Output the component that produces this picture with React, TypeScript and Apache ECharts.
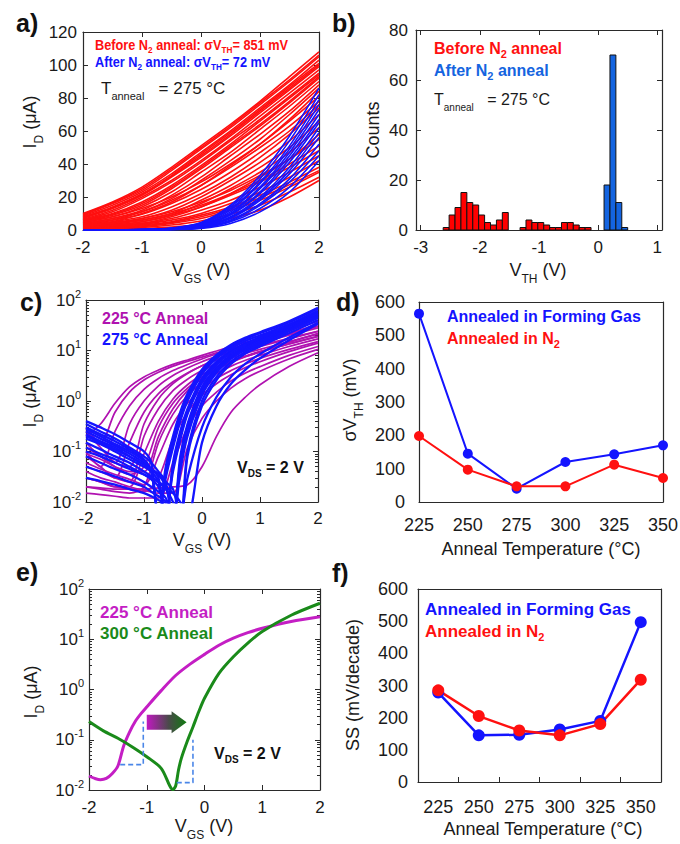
import React, { useEffect, useRef } from 'react';
import * as echarts from 'echarts';

const FONT = '"Liberation Sans", Arial, Helvetica, sans-serif';

// ---------------- Panel a : linear I-V before / after N2 anneal ----------------
const vgsA = [-2, -1.5, -1, -0.5, 0, 0.5, 1, 1.5, 2];
const idBeforeN2 = [
  [10, 17, 26, 38, 51, 64, 78, 93, 108],
  [9.5, 16.5, 25, 37, 50, 63, 77, 91, 106],
  [9, 16, 24, 36, 49, 62, 76, 90, 105],
  [8.5, 15, 23, 34, 47, 60, 74, 88, 103],
  [8, 14, 22, 33, 46, 59, 73, 87, 101],
  [7.5, 13.5, 21.5, 32.5, 45, 58, 72, 86, 100],
  [7, 13, 21, 32, 44, 57, 71, 85, 99],
  [6.5, 12, 20, 30, 42, 55, 69, 83, 97],
  [6, 11, 19, 29, 41, 54, 67, 81, 95],
  [6, 10, 17, 27, 39, 52, 66, 80, 94],
  [5.5, 9.5, 16, 26, 38, 51, 64, 78, 93],
  [5, 9, 15, 25, 37, 50, 63, 77, 92],
  [4.5, 8, 14, 23, 35, 47, 61, 75, 90],
  [4, 7, 12, 21, 32, 45, 58, 72, 88],
  [3.5, 6, 11, 19, 30, 42, 55, 70, 86],
  [3, 5, 10, 17, 27, 39, 52, 67, 84],
  [5, 8, 13, 20, 29, 40, 52, 66, 81],
  [4, 7, 11, 18, 27, 38, 50, 63, 78],
  [3.5, 6, 9.5, 16, 24.5, 35, 47, 60, 76],
  [3, 5, 8, 14, 22, 32, 44, 58, 74],
  [2.5, 4, 7, 12, 20, 30, 41, 54, 70],
  [2, 3.5, 6, 10, 18, 27, 38, 50, 66],
  [2, 3, 5, 9, 16, 25, 35, 47, 62],
  [1.5, 2.5, 4, 8, 14, 22, 32, 43, 58],
  [3, 4.5, 7, 11, 17, 24, 33, 43, 55],
  [2.5, 4, 6, 10, 15, 22, 30, 40, 51],
  [2, 3, 5, 9, 14, 21, 29, 38, 48],
  [1.5, 2.5, 4, 7, 12, 18, 26, 35, 45],
  [1, 2, 3.5, 6, 10, 16, 23, 32, 42],
  [1, 1.5, 3, 5, 9, 14, 21, 29, 38],
  [0.8, 1.3, 2.5, 4.5, 8, 13, 19.5, 27.5, 36],
  [0.5, 1, 2, 4, 7, 12, 18, 26, 35],
  [0.4, 0.8, 1.5, 3, 5.5, 9.5, 15, 23, 32],
  [0.3, 0.5, 1, 1.8, 3.5, 7, 12, 20, 30],
];
const idAfterN2 = [
  [0, 0.1, 0.3, 1.2, 4.5, 15, 33, 57, 86],
  [0, 0.1, 0.3, 1.1, 4.2, 14, 31, 54, 82],
  [0, 0.1, 0.2, 1, 4, 13, 29, 51, 79],
  [0, 0, 0.2, 0.9, 3.6, 12, 28, 49, 76],
  [0, 0, 0.2, 0.8, 3.3, 11, 26, 47, 73],
  [0, 0, 0.2, 0.8, 3, 10, 25, 45, 70],
  [0, 0, 0.1, 0.7, 2.8, 9.5, 23, 43, 67],
  [0, 0, 0.1, 0.6, 2.5, 9, 22, 41, 65],
  [0, 0, 0.1, 0.5, 2.2, 8, 20, 38, 62],
  [0, 0, 0.1, 0.5, 2, 7.5, 19, 36, 59],
  [0, 0, 0.1, 0.4, 1.8, 7, 18, 34, 56],
  [0, 0, 0.1, 0.4, 1.6, 6, 16, 31, 52],
  [0, 0, 0.1, 0.3, 1.4, 5.5, 15, 29, 48],
  [0, 0, 0, 0.3, 1.2, 5, 13, 26, 45],
  [0, 0, 0, 0.2, 1, 4, 11, 23, 42],
];

// ---------------- Panel b : V_TH histogram ----------------
const binWidth = 0.1;
const vthBeforeBins = [-2.62, -2.52, -2.42, -2.32, -2.22, -2.12, -2.02, -1.92, -1.82, -1.72, -1.62,
  -1.32, -1.22, -1.12, -1.02, -0.92, -0.82, -0.72, -0.62, -0.52, -0.42, -0.32, -0.22];
const vthBeforeCounts = [1, 6, 9, 15, 11, 10, 6, 3, 2, 4, 7, 1, 4, 3, 3, 2, 1, 1, 3, 3, 2, 1, 1];
const vthAfterBins = [0.1, 0.2, 0.3, 0.4];
const vthAfterCounts = [18, 70, 11, 1];
const vthTicks = [-3, -2, -1, 0, 1];

// ---------------- Panel c : log I-V, 225 vs 275 C ----------------
const vgs225 = [-2, -1.75, -1.5, -1.25, -1, -0.75, -0.5, -0.25, 0, 0.25, 0.5, 0.75, 1, 1.5, 2];
const id225 = [
  [0.2, 0.35, 0.9, 1.9, 3.0, 4.1, 5.3, 6.5, 8, 9.8, 12, 14.5, 17, 25, 38],
  [0.3, 0.15, 0.6, 1.5, 2.6, 3.7, 4.9, 6.1, 7.4, 9, 11, 13, 15.5, 22, 33],
  [0.1, 0.05, 0.25, 0.8, 1.7, 2.8, 4, 5.3, 6.8, 8.5, 10.5, 12.5, 15, 21, 30],
  [0.15, 0.08, 0.06, 0.35, 1.0, 2.0, 3.2, 4.5, 6, 7.6, 9.5, 11.5, 14, 20, 28],
  [0.08, 0.05, 0.03, 0.15, 0.6, 1.4, 2.4, 3.6, 5, 6.5, 8.2, 10, 12, 17, 24],
  [0.25, 0.12, 0.06, 0.05, 0.35, 1.1, 2.2, 3.5, 5, 6.7, 8.6, 10.5, 12.5, 17.5, 24],
  [0.05, 0.04, 0.03, 0.025, 0.2, 0.7, 1.6, 2.7, 4, 5.5, 7, 8.8, 10.5, 15, 21],
  [0.03, 0.025, 0.02, 0.02, 0.09, 0.4, 1.1, 2.1, 3.3, 4.7, 6.2, 7.8, 9.5, 13.5, 19],
  [0.12, 0.08, 0.05, 0.035, 0.05, 0.3, 0.9, 1.8, 3.0, 4.4, 6, 7.6, 9.3, 13.5, 19],
  [0.09, 0.07, 0.05, 0.04, 0.04, 0.2, 0.7, 1.6, 2.8, 4.2, 5.8, 7.5, 9.5, 14.5, 22],
  [0.02, 0.018, 0.016, 0.015, 0.02, 0.15, 0.55, 1.3, 2.3, 3.5, 4.9, 6.4, 8, 12, 17],
  [0.06, 0.045, 0.035, 0.028, 0.022, 0.08, 0.35, 0.9, 1.7, 2.8, 4, 5.4, 7, 10.5, 15],
  [0.03, 0.025, 0.02, 0.018, 0.016, 0.03, 0.18, 0.6, 1.3, 2.2, 3.3, 4.6, 6, 9.5, 14],
  [0.015, 0.014, 0.013, 0.012, 0.012, 0.012, 0.06, 0.3, 0.8, 1.5, 2.5, 3.6, 4.8, 8, 12],
  [0.04, 0.03, 0.025, 0.02, 0.017, 0.015, 0.015, 0.12, 0.45, 1.0, 1.8, 2.8, 3.9, 6.8, 10.5],
  [0.02, 0.019, 0.018, 0.018, 0.018, 0.019, 0.02, 0.022, 0.05, 0.2, 0.6, 1.2, 2.1, 4.8, 9],
];
const vgs275 = [-2, -1.75, -1.5, -1.25, -1, -0.875, -0.75, -0.625, -0.5, -0.375, -0.25, 0, 0.25, 0.5, 0.75, 1, 1.5, 2];
const id275 = [
  [0.40, 0.30, 0.22, 0.15, 0.10, 0.06, 0.004, 0.04, 0.15, 0.5, 1.2, 3.8, 7.5, 12, 17, 22, 36, 68],
  [0.30, 0.22, 0.16, 0.11, 0.07, 0.04, 0.005, 0.03, 0.12, 0.4, 1.0, 3.4, 7, 11, 15.5, 20, 33, 62],
  [0.25, 0.18, 0.13, 0.09, 0.06, 0.045, 0.03, 0.004, 0.06, 0.25, 0.7, 2.8, 6, 10, 14, 18.5, 31, 58],
  [0.18, 0.14, 0.10, 0.07, 0.05, 0.04, 0.025, 0.005, 0.05, 0.2, 0.6, 2.5, 5.5, 9.3, 13.5, 18, 30, 55],
  [0.12, 0.09, 0.07, 0.05, 0.035, 0.028, 0.02, 0.006, 0.04, 0.17, 0.55, 2.3, 5.2, 9, 13, 17, 29, 54],
  [0.35, 0.25, 0.18, 0.12, 0.08, 0.06, 0.04, 0.025, 0.004, 0.08, 0.35, 1.9, 4.6, 8.2, 12, 16, 28, 52],
  [0.08, 0.06, 0.045, 0.035, 0.025, 0.02, 0.016, 0.012, 0.005, 0.06, 0.3, 1.7, 4.3, 7.8, 11.5, 15.5, 27, 50],
  [0.22, 0.16, 0.12, 0.08, 0.055, 0.045, 0.035, 0.02, 0.006, 0.05, 0.25, 1.5, 4, 7.3, 11, 15, 26, 48],
  [0.05, 0.04, 0.032, 0.025, 0.02, 0.016, 0.013, 0.01, 0.004, 0.04, 0.2, 1.3, 3.6, 6.8, 10.3, 14, 25, 46],
  [0.15, 0.11, 0.08, 0.06, 0.04, 0.032, 0.025, 0.018, 0.01, 0.004, 0.1, 1.0, 3.0, 6, 9.5, 13, 24, 44],
  [0.03, 0.026, 0.022, 0.018, 0.015, 0.013, 0.011, 0.009, 0.007, 0.003, 0.08, 0.8, 2.6, 5.4, 8.7, 12, 22, 40],
  [0.28, 0.2, 0.14, 0.1, 0.065, 0.04, 0.006, 0.05, 0.2, 0.6, 1.4, 4.2, 8.2, 13, 18, 23, 38, 70],
  [0.2, 0.15, 0.11, 0.08, 0.055, 0.045, 0.035, 0.025, 0.018, 0.005, 0.03, 0.3, 1.2, 3, 5.5, 8.5, 18, 36],
  [0.1, 0.08, 0.06, 0.045, 0.035, 0.03, 0.025, 0.02, 0.015, 0.01, 0.005, 0.15, 0.8, 2.2, 4.2, 7, 16, 34],
];

// ---------------- Panel d : sigma V_TH vs anneal temperature ----------------
const annealTemps = [225, 250, 275, 300, 325, 350];
const sigmaVthFG = [565, 145, 40, 120, 143, 170];
const sigmaVthN2 = [198, 97, 47, 47, 112, 72];

// ---------------- Panel e : representative curves ----------------
const vgsE225 = [-2, -1.9, -1.8, -1.7, -1.6, -1.5, -1.4, -1.3, -1.2, -1.1, -1, -0.75, -0.5, -0.25, 0, 0.25, 0.5, 0.75, 1, 1.5, 2];
const idE225 = [0.019, 0.017, 0.016, 0.017, 0.021, 0.03, 0.075, 0.14, 0.23, 0.33, 0.45, 0.95, 1.9, 3.2, 5.0, 7.6, 10.5, 13.5, 16.5, 22.5, 28];
const vgsE300 = [-2, -1.75, -1.5, -1.25, -1, -0.75, -0.6, -0.55, -0.5, -0.45, -0.4, -0.3, -0.2, -0.1, 0, 0.25, 0.5, 0.75, 1, 1.5, 2];
const idE300 = [0.23, 0.15, 0.107, 0.072, 0.046, 0.027, 0.012, 0.0102, 0.012, 0.025, 0.043, 0.092, 0.18, 0.36, 0.67, 2.1, 4.5, 8.4, 14.3, 30, 52];
const ssGuide225 = [[-1.46, 0.032], [-1.06, 0.032], [-1.06, 0.23]];
const ssGuide300 = [[-0.48, 0.014], [-0.2, 0.014], [-0.2, 0.1]];
const shiftArrow = [-1.0, 0.224, -0.31, 0.224];

// ---------------- Panel f : SS vs anneal temperature ----------------
const tempCats = ['225', '250', '275', '300', '325', '350'];
const ssFG = [278, 145, 147, 163, 190, 497];
const ssN2 = [285, 205, 160, 145, 180, 318];

// ---------------- colours ----------------
const RED = '#ff1010';
const BLUE = '#1414ff';
const HBLUE = '#1464e0';
const MAG = '#b012b0';
const MAG_E = '#c41ec4';
const GREEN = '#1a8a1a';
const AXC = '#2a2a2a';
const TXT = '#1a1a1a';

const GRIDS = [
  { left: 83, top: 32, width: 236, height: 198 },
  { left: 416, top: 30, width: 246, height: 200 },
  { left: 86, top: 300, width: 232, height: 202 },
  { left: 419, top: 302, width: 244, height: 200 },
  { left: 89, top: 589, width: 231, height: 201 },
  { left: 418, top: 589, width: 243, height: 193 },
];

const LINE = { show: true, onZero: false, lineStyle: { color: AXC, width: 1.2 } };
const NOLINE = { show: false, onZero: false };
const NOSPLIT = { show: false };
const HIDDEN = { show: false };
const ticks = (len: number, extra: any = {}) => ({ show: true, inside: true, length: len, lineStyle: { color: AXC, width: 1 }, ...extra });
const labels = (size: number, margin: number, extra: any = {}) => ({ show: true, color: TXT, fontSize: size, fontFamily: FONT, margin, ...extra });

const minorLog: number[] = [];
[-2, -1, 0, 1].forEach((d) => [2, 3, 4, 5, 6, 7, 8, 9].forEach((k) => minorLog.push(d + Math.log10(k))));

const logLabel = {
  show: true,
  margin: 5,
  formatter: (v: number) => `{m|10}{s|${Math.round(Math.log10(v))}}`,
  rich: {
    m: { fontSize: 17, color: TXT, fontFamily: FONT, lineHeight: 24, verticalAlign: 'middle' },
    s: { fontSize: 11, color: TXT, fontFamily: FONT, lineHeight: 11, verticalAlign: 'top' },
  },
};

function richDef(size: number, sub: number, color: string, weight: string, off: number) {
  const L = Math.max(sub + 2 * off, size + 2);
  return {
    m: { fontSize: size, fontWeight: weight, fontFamily: FONT, fill: color, color, lineHeight: L, verticalAlign: 'middle' },
    s: { fontSize: sub, fontWeight: weight, fontFamily: FONT, fill: color, color, lineHeight: sub, verticalAlign: 'bottom' },
  };
}

function gtext(x: number, y: number, text: string, rich: any, opts: any = {}) {
  return {
    type: 'text',
    x,
    y,
    silent: true,
    z: 100,
    rotation: opts.rotation || 0,
    scaleX: opts.scaleX || 1,
    style: {
      text,
      rich,
      align: opts.align || 'left',
      textAlign: opts.align || 'left',
      verticalAlign: 'middle',
      textVerticalAlign: 'middle',
      fill: TXT,
      fontFamily: FONT,
    },
  };
}

function lineSeries(xs: number[], ys: number[], color: string, xi: number, yi: number, width: number, extra: any = {}) {
  return {
    type: 'line',
    xAxisIndex: xi,
    yAxisIndex: yi,
    data: xs.map((x, i) => [x, ys[i]]),
    symbol: 'none',
    showSymbol: false,
    smooth: 0.3,
    lineStyle: { color, width },
    itemStyle: { color },
    silent: true,
    ...extra,
  };
}

function histSeries(bins: number[], counts: number[], color: string) {
  return {
    type: 'custom',
    xAxisIndex: 2,
    yAxisIndex: 2,
    data: bins.map((b, i) => [b, b + binWidth, counts[i]]),
    encode: { x: [0, 1], y: 2 },
    silent: true,
    renderItem: (params: any, api: any) => {
      const a = api.coord([api.value(0), api.value(2)]);
      const b = api.coord([api.value(1), 0]);
      return {
        type: 'rect',
        shape: { x: a[0], y: a[1], width: b[0] - a[0], height: b[1] - a[1] },
        style: { fill: color, stroke: '#111', lineWidth: 1 },
      };
    },
  };
}

function buildOption() {
  const xAxis: any[] = [
    // a
    { gridIndex: 0, type: 'value', min: -2, max: 2, interval: 1, position: 'bottom', axisLine: LINE, axisTick: ticks(5), axisLabel: labels(17, 9), splitLine: NOSPLIT },
    { gridIndex: 0, type: 'value', min: -2, max: 2, interval: 1, position: 'top', axisLine: LINE, axisTick: ticks(5), axisLabel: HIDDEN, splitLine: NOSPLIT },
    // b
    { gridIndex: 1, type: 'value', min: -3.08, max: 1.08, position: 'bottom', axisLine: LINE, axisTick: ticks(5, { customValues: vthTicks }), axisLabel: labels(17, 9, { customValues: vthTicks }), splitLine: NOSPLIT },
    { gridIndex: 1, type: 'value', min: -3.08, max: 1.08, position: 'top', axisLine: LINE, axisTick: ticks(5, { customValues: vthTicks }), axisLabel: HIDDEN, splitLine: NOSPLIT },
    // c
    { gridIndex: 2, type: 'value', min: -2, max: 2, interval: 1, position: 'bottom', axisLine: LINE, axisTick: ticks(5), axisLabel: labels(17, 8), splitLine: NOSPLIT },
    { gridIndex: 2, type: 'value', min: -2, max: 2, interval: 1, position: 'top', axisLine: LINE, axisTick: ticks(5), axisLabel: HIDDEN, splitLine: NOSPLIT },
    // d
    { gridIndex: 3, type: 'value', min: 225, max: 350, interval: 25, position: 'bottom', axisLine: LINE, axisTick: HIDDEN, axisLabel: labels(18, 14), splitLine: NOSPLIT },
    { gridIndex: 3, type: 'value', min: 225, max: 350, interval: 25, position: 'top', axisLine: LINE, axisTick: HIDDEN, axisLabel: HIDDEN, splitLine: NOSPLIT },
    // e
    { gridIndex: 4, type: 'value', min: -2, max: 2, interval: 1, position: 'bottom', axisLine: LINE, axisTick: ticks(5), axisLabel: labels(17, 9), splitLine: NOSPLIT },
    { gridIndex: 4, type: 'value', min: -2, max: 2, interval: 1, position: 'top', axisLine: LINE, axisTick: ticks(5), axisLabel: HIDDEN, splitLine: NOSPLIT },
    // f
    { gridIndex: 5, type: 'category', data: tempCats, boundaryGap: true, position: 'bottom', axisLine: LINE, axisTick: ticks(5), axisLabel: labels(18, 16), splitLine: NOSPLIT },
    { gridIndex: 5, type: 'category', data: tempCats, boundaryGap: true, position: 'top', axisLine: LINE, axisTick: HIDDEN, axisLabel: HIDDEN, splitLine: NOSPLIT },
  ];

  const logMain = (g: number) => ({ gridIndex: g, type: 'log', logBase: 10, min: 0.01, max: 100, position: 'left', axisLine: LINE, axisTick: ticks(5), axisLabel: logLabel, splitLine: NOSPLIT, minorTick: HIDDEN });
  const logMinor = (g: number, pos: string) => ({ gridIndex: g, type: 'value', min: -2, max: 2, position: pos, axisLine: NOLINE, axisTick: ticks(3, { customValues: minorLog }), axisLabel: HIDDEN, splitLine: NOSPLIT });
  const logRight = (g: number) => ({ gridIndex: g, type: 'value', min: -2, max: 2, interval: 1, position: 'right', axisLine: LINE, axisTick: ticks(5), axisLabel: HIDDEN, splitLine: NOSPLIT });

  const yAxis: any[] = [
    // a 0,1
    { gridIndex: 0, type: 'value', min: 0, max: 120, interval: 20, position: 'left', axisLine: LINE, axisTick: ticks(5), axisLabel: labels(17, 6), splitLine: NOSPLIT },
    { gridIndex: 0, type: 'value', min: 0, max: 120, interval: 20, position: 'right', axisLine: LINE, axisTick: ticks(5), axisLabel: HIDDEN, splitLine: NOSPLIT },
    // b 2,3
    { gridIndex: 1, type: 'value', min: 0, max: 80, interval: 20, position: 'left', axisLine: LINE, axisTick: ticks(5), axisLabel: labels(17, 8), splitLine: NOSPLIT },
    { gridIndex: 1, type: 'value', min: 0, max: 80, interval: 20, position: 'right', axisLine: LINE, axisTick: ticks(5), axisLabel: HIDDEN, splitLine: NOSPLIT },
    // c 4..7
    logMain(2), logMinor(2, 'left'), logRight(2), logMinor(2, 'right'),
    // d 8,9
    { gridIndex: 3, type: 'value', min: 0, max: 600, interval: 100, position: 'left', axisLine: LINE, axisTick: HIDDEN, axisLabel: labels(18, 14), splitLine: NOSPLIT },
    { gridIndex: 3, type: 'value', min: 0, max: 600, interval: 100, position: 'right', axisLine: LINE, axisTick: HIDDEN, axisLabel: HIDDEN, splitLine: NOSPLIT },
    // e 10..13
    logMain(4), logMinor(4, 'left'), logRight(4), logMinor(4, 'right'),
    // f 14,15
    { gridIndex: 5, type: 'value', min: 0, max: 600, interval: 100, position: 'left', axisLine: LINE, axisTick: HIDDEN, axisLabel: labels(18, 10), splitLine: NOSPLIT },
    { gridIndex: 5, type: 'value', min: 0, max: 600, interval: 100, position: 'right', axisLine: LINE, axisTick: HIDDEN, axisLabel: HIDDEN, splitLine: NOSPLIT },
  ];

  const series: any[] = [];
  // a
  idBeforeN2.forEach((ys) => series.push(lineSeries(vgsA, ys, RED, 0, 0, 1.6)));
  idAfterN2.forEach((ys) => series.push(lineSeries(vgsA, ys, BLUE, 0, 0, 1.6)));
  // b
  series.push(histSeries(vthBeforeBins, vthBeforeCounts, '#ff0000'));
  series.push(histSeries(vthAfterBins, vthAfterCounts, HBLUE));
  // c
  id225.forEach((ys) => series.push(lineSeries(vgs225, ys, MAG, 4, 4, 1.7)));
  id275.forEach((ys) => series.push(lineSeries(vgs275, ys, BLUE, 4, 4, 2.3)));
  // d
  const markerLine = (data: any[], color: string, xi: number, yi: number, size: number, w: number) => ({
    type: 'line', xAxisIndex: xi, yAxisIndex: yi, data, symbol: 'circle', symbolSize: size, showSymbol: true,
    lineStyle: { color, width: w }, itemStyle: { color }, clip: false, silent: true,
  });
  series.push(markerLine(annealTemps.map((t, i) => [t, sigmaVthFG[i]]), BLUE, 6, 8, 10, 2));
  series.push(markerLine(annealTemps.map((t, i) => [t, sigmaVthN2[i]]), RED, 6, 8, 10, 2));
  // e
  series.push(lineSeries(vgsE225, idE225, MAG_E, 8, 10, 3));
  series.push(lineSeries(vgsE300, idE300, GREEN, 8, 10, 3));
  [ssGuide225, ssGuide300].forEach((g) =>
    series.push({
      type: 'line', xAxisIndex: 8, yAxisIndex: 10, data: g, symbol: 'none', smooth: false, silent: true,
      lineStyle: { color: '#4a86e8', width: 1.6, type: [5, 3] }, z: 3,
    }),
  );
  series.push({
    type: 'custom', xAxisIndex: 8, yAxisIndex: 10, data: [shiftArrow], encode: { x: 0, y: 1 }, silent: true, z: 4,
    renderItem: (params: any, api: any) => {
      const p0 = api.coord([api.value(0), api.value(1)]);
      const p1 = api.coord([api.value(2), api.value(3)]);
      const bh = 7.5, hh = 11, hl = 15;
      const y = p0[1];
      const pts = [
        [p0[0], y - bh], [p1[0] - hl, y - bh], [p1[0] - hl, y - hh], [p1[0], y],
        [p1[0] - hl, y + hh], [p1[0] - hl, y + bh], [p0[0], y + bh],
      ];
      return {
        type: 'polygon',
        shape: { points: pts },
        style: {
          fill: new echarts.graphic.LinearGradient(0, 0, 1, 0, [
            { offset: 0, color: '#c218c2' },
            { offset: 0.55, color: '#4a4a4a' },
            { offset: 1, color: '#0f7a0f' },
          ]),
        },
      };
    },
  });
  // f
  series.push({ type: 'line', xAxisIndex: 10, yAxisIndex: 14, data: ssFG, symbol: 'circle', symbolSize: 12, lineStyle: { color: BLUE, width: 2.5 }, itemStyle: { color: BLUE }, clip: false, silent: true });
  series.push({ type: 'line', xAxisIndex: 10, yAxisIndex: 14, data: ssN2, symbol: 'circle', symbolSize: 12, lineStyle: { color: RED, width: 2.5 }, itemStyle: { color: RED }, clip: false, silent: true });

  // texts
  const letter = richDef(25, 12, '#111', 'bold', 0);
  const ax18 = richDef(18, 12, TXT, 'normal', 9);
  const leg14r = richDef(14, 9, RED, 'bold', 5);
  const leg14b = richDef(14, 9, BLUE, 'bold', 5);
  const tann17 = richDef(17, 11, TXT, 'normal', 8);
  const tann16 = richDef(16, 10, TXT, 'normal', 8);
  const b16r = richDef(16, 11, RED, 'bold', 6);
  const b16b = richDef(16, 11, HBLUE, 'bold', 6);
  const c15m = richDef(16, 10, MAG, 'bold', 5);
  const c15b = richDef(16, 10, BLUE, 'bold', 5);
  const vds = richDef(16, 10, '#111', 'bold', 6);
  const d15b = richDef(16, 11, BLUE, 'bold', 6);
  const d15r = richDef(16, 11, RED, 'bold', 6);
  const e17m = richDef(17, 11, MAG_E, 'bold', 6);
  const e17g = richDef(17, 11, GREEN, 'bold', 6);
  const f16b = richDef(17, 11, BLUE, 'bold', 6);
  const f16r = richDef(17, 11, RED, 'bold', 6);
  const ROT = Math.PI / 2;

  const graphic = [
    gtext(16, 23, '{m|a)}', letter),
    gtext(332, 23, '{m|b)}', letter),
    gtext(20, 302, '{m|c)}', letter),
    gtext(336, 302, '{m|d)}', letter),
    gtext(16, 572, '{m|e)}', letter),
    gtext(332, 573, '{m|f)}', letter),
    // a
    gtext(95, 45, '{m|Before N}{s|2}{m| anneal: σV}{s|TH}{m|= 851 mV}', leg14r, { scaleX: 0.91 }),
    gtext(95, 62, '{m|After N}{s|2}{m| anneal: σV}{s|TH}{m|= 72 mV}', leg14b, { scaleX: 0.91 }),
    gtext(101, 88, '{m|T}{s|anneal}{m|   = 275 °C}', tann17),
    gtext(201, 270, '{m|V}{s|GS}{m| (V)}', ax18, { align: 'center' }),
    gtext(30, 122, '{m|I}{s|D}{m| (μA)}', ax18, { align: 'center', rotation: ROT }),
    // b
    gtext(434, 48, '{m|Before N}{s|2}{m| anneal}', b16r),
    gtext(434, 70, '{m|After N}{s|2}{m| anneal}', b16b),
    gtext(434, 99, '{m|T}{s|anneal}{m|   = 275 °C}', tann16),
    gtext(538, 270, '{m|V}{s|TH}{m| (V)}', ax18, { align: 'center' }),
    gtext(373, 130, '{m|Counts}', ax18, { align: 'center', rotation: ROT }),
    // c
    gtext(102, 318, '{m|225 °C Anneal}', c15m),
    gtext(102, 339, '{m|275 °C Anneal}', c15b),
    gtext(237, 467, '{m|V}{s|DS}{m| = 2 V}', vds),
    gtext(202, 540, '{m|V}{s|GS}{m| (V)}', ax18, { align: 'center' }),
    gtext(30, 401, '{m|I}{s|D}{m| (μA)}', ax18, { align: 'center', rotation: ROT }),
    // d
    gtext(447, 316, '{m|Annealed in Forming Gas}', d15b),
    gtext(447, 338, '{m|Annealed in N}{s|2}', d15r),
    gtext(541, 549, '{m|Anneal Temperature (°C)}', ax18, { align: 'center' }),
    gtext(350, 400, '{m|σV}{s|TH}{m| (mV)}', ax18, { align: 'center', rotation: ROT }),
    // e
    gtext(100, 612, '{m|225 °C Anneal}', e17m),
    gtext(100, 633, '{m|300 °C Anneal}', e17g),
    gtext(214, 753, '{m|V}{s|DS}{m| = 2 V}', vds),
    gtext(204, 826, '{m|V}{s|GS}{m| (V)}', ax18, { align: 'center' }),
    gtext(31, 692, '{m|I}{s|D}{m| (μA)}', ax18, { align: 'center', rotation: ROT }),
    // f
    gtext(425, 609, '{m|Annealed in Forming Gas}', f16b),
    gtext(425, 631, '{m|Annealed in N}{s|2}', f16r),
    gtext(543, 829, '{m|Anneal Temperature (°C)}', ax18, { align: 'center' }),
    gtext(353, 685, '{m|SS (mV/decade)}', ax18, { align: 'center', rotation: ROT }),
  ];

  return {
    animation: false,
    backgroundColor: '#ffffff',
    textStyle: { fontFamily: FONT },
    grid: GRIDS.map((g) => ({ ...g, containLabel: false, outerBoundsMode: 'none', show: false })),
    xAxis,
    yAxis,
    series,
    graphic: { elements: graphic },
  };
}

export default function App() {
  const ref = useRef<HTMLDivElement>(null);
  useEffect(() => {
    document.body.style.margin = '0';
    if (!ref.current) return;
    const chart = echarts.init(ref.current, undefined, { renderer: 'svg' });
    chart.setOption(buildOption() as any);
    return () => chart.dispose();
  }, []);
  return <div ref={ref} style={{ width: 680, height: 844, background: '#fff' }} />;
}
